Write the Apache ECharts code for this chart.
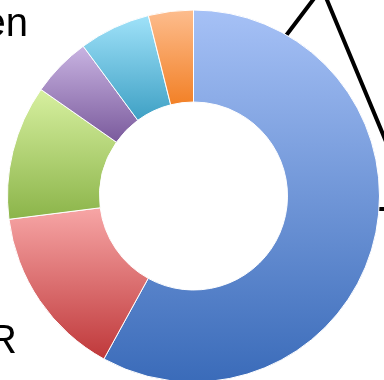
<!DOCTYPE html>
<html>
<head>
<meta charset="utf-8">
<script src="https://cdn.jsdelivr.net/npm/echarts@6/dist/echarts.min.js"></script>
<style>html,body{margin:0;padding:0;background:#fff;}#c{width:384px;height:380px;}</style>
</head>
<body>
<div id="c"></div>
<script>
const sliceNames = ['A', 'B', 'C', 'D', 'E', 'F'];
const sliceValues = [58.0, 15.0, 11.7, 5.2, 6.2, 3.9];
const topColors = ['#a6c1f6', '#f7a6a6', '#d7f0a0', '#c9b4e2', '#a0e2f9', '#fdbd8e'];
const bottomColors = ['#3a6bb9', '#bf383a', '#8bb449', '#7a5a9c', '#3ea0c4', '#f28026'];
const leftLabels = ['en', 'R'];

const chart = echarts.init(document.getElementById('c'), null, {renderer: 'canvas'});
const data = sliceValues.map((v, i) => ({
  name: sliceNames[i],
  value: v,
  itemStyle: {
    color: new echarts.graphic.LinearGradient(0, 0, 0, 1, [
      {offset: 0, color: topColors[i]},
      {offset: 1, color: bottomColors[i]}
    ])
  }
}));
chart.setOption({
  animation: false,
  backgroundColor: '#fff',
  graphic: [
    {type: 'polyline', z: 0, shape: {points: [[260, 70], [322, -12], [392, 156]]}, style: {stroke: '#000', lineWidth: 4, fill: null}},
    {type: 'line', z: 0, shape: {x1: 370, y1: 209, x2: 390, y2: 209}, style: {stroke: '#000', lineWidth: 4}},
    {type: 'text', z: 10, style: {text: leftLabels[0], x: 28, y: 25, textAlign: 'right', textVerticalAlign: 'middle', font: '40px "Liberation Sans", Arial, sans-serif', fill: '#000'}},
    {type: 'text', z: 10, style: {text: leftLabels[1], x: 17, y: 342, textAlign: 'right', textVerticalAlign: 'middle', font: '40px "Liberation Sans", Arial, sans-serif', fill: '#000'}}
  ],
  series: [{
    type: 'pie',
    z: 2,
    center: [193.5, 196],
    radius: [94, 186],
    startAngle: 90,
    clockwise: true,
    avoidLabelOverlap: false,
    label: {show: false},
    labelLine: {show: false},
    emphasis: {disabled: true},
    itemStyle: {borderColor: '#fff', borderWidth: 1},
    data: data
  }]
});
</script>
</body>
</html>
